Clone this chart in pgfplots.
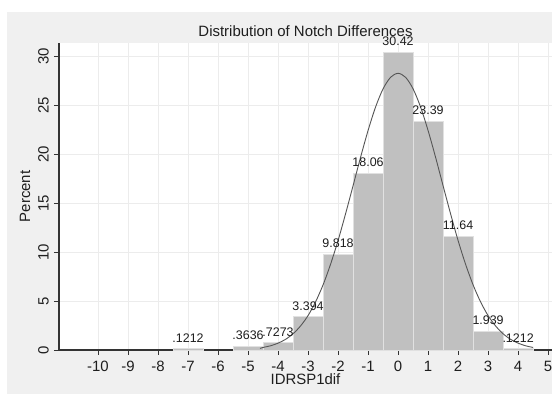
\documentclass[border=0pt]{standalone}
\usepackage{fontspec}
\setmainfont{Liberation Sans}
\usepackage{pgfplots}
\pgfplotsset{compat=1.18}
\usepackage{pgfplotstable}
\definecolor{panel}{RGB}{240,240,240}
\definecolor{barfill}{RGB}{192,192,192}
\definecolor{baredge}{RGB}{225,225,225}
\definecolor{gridc}{RGB}{236,236,236}
\definecolor{curvec}{RGB}{85,85,85}
\definecolor{txt}{RGB}{30,30,30}
\pgfplotstableread{
x y lab
-7 0.1212 .1212
-5 0.3636 .3636
-4 0.7273 .7273
-3 3.394 3.394
-2 9.818 9.818
-1 18.06 18.06
0 30.42 30.42
1 23.39 23.39
2 11.64 11.64
3 1.939 1.939
4 0.1212 .1212
}\bars
\begin{document}
\begin{tikzpicture}
\fill[white] (0,0) rectangle (552bp,394bp);
\fill[panel] (7bp,0) rectangle (552bp,382bp);
\begin{axis}[
  at={(59bp,44bp)}, anchor=south west,
  scale only axis, width=493bp, height=307bp,
  xmin=-11.3, xmax=5.13, ymin=0, ymax=31.4,
  axis background/.style={fill=white},
  axis x line*=bottom, axis y line*=left,
  axis line style={draw=black!80, line width=1.2bp},
  xtick={-10,...,5}, ytick={0,5,...,30},
  tick align=outside, major tick length=5bp,
  tick style={draw=black!80, line width=0.9bp},
  grid=major, major grid style={draw=gridc, line width=1bp},
  /pgf/number format/assume math mode=true,
  tick label style={font=\fontsize{15}{18}\selectfont, text=txt},
  yticklabel style={rotate=90, anchor=south, inner sep=0pt, yshift=5bp},
  xticklabel style={inner sep=0pt, yshift=-6bp},
  title={Distribution of Notch Differences},
  title style={at={(axis description cs:0.5,1)}, anchor=center, yshift=6bp, font=\fontsize{15}{18}\selectfont, text=txt},
  xlabel={IDRSP1dif},
  xlabel style={at={(axis description cs:0.5,0)}, anchor=center, yshift=-29bp, font=\fontsize{15}{18}\selectfont, text=txt},
  ylabel={Percent},
  ylabel style={at={(axis description cs:0,0.5)}, anchor=center, yshift=34bp, font=\fontsize{15}{18}\selectfont, text=txt},
  clip=false,
]
\addplot[ybar, bar width=1, fill=barfill, draw=baredge, line width=1bp,
  point meta=explicit symbolic,
  nodes near coords,
  every node near coord/.append style={font=\fontsize{12.5}{14}\selectfont, text=txt, inner sep=2pt, yshift=4bp}]
  table[x=x, y=y, meta=lab] {\bars};
\addplot[curvec, line width=0.9bp, smooth, no marks] coordinates {
(-4.6,0.16) (-4.5,0.26) (-4.25,0.43) (-4,0.70) (-3.75,1.09) (-3.5,1.66) (-3.25,2.46)
(-3,3.52) (-2.75,4.92) (-2.5,6.66) (-2.25,8.77) (-2,11.2) (-1.75,13.93)
(-1.5,16.8) (-1.25,19.71) (-1,22.45) (-0.75,24.85) (-0.5,26.71) (-0.25,27.89)
(0,28.3) (0.25,27.89) (0.5,26.71) (0.75,24.85) (1,22.45) (1.25,19.71)
(1.5,16.8) (1.75,13.93) (2,11.2) (2.25,8.77) (2.5,6.66) (2.75,4.92)
(3,3.52) (3.25,2.46) (3.5,1.66) (3.75,1.09) (4,0.70) (4.25,0.43) (4.5,0.26)
};
\end{axis}
\pgfresetboundingbox
\path (0,0) rectangle (552bp,394bp);
\end{tikzpicture}
\end{document}
